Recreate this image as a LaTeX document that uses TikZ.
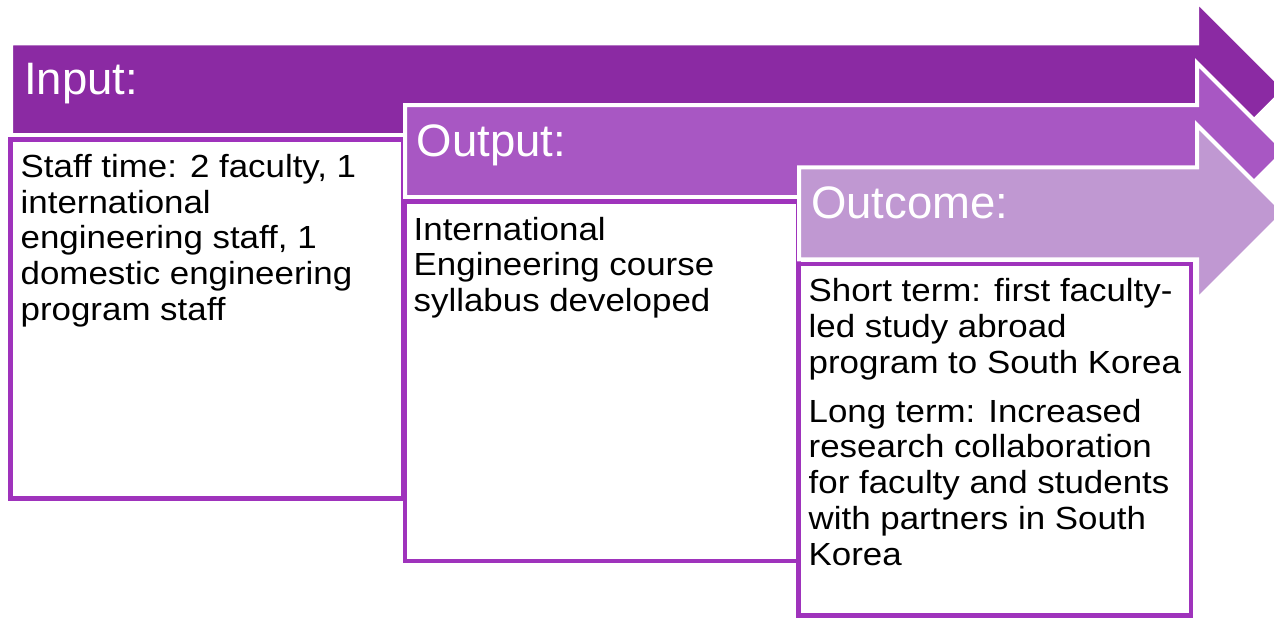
\documentclass[tikz,border=0pt]{standalone}
\usepackage{fontspec}
\setmainfont{Liberation Sans}
\newfontfamily\bodyfont[FakeStretch=1.09]{Liberation Sans}
\definecolor{inputpurple}{HTML}{8B2AA3}
\definecolor{outputpurple}{HTML}{A857C3}
\definecolor{outcomepurple}{HTML}{C098D2}
\definecolor{boxline}{HTML}{9F33BC}
\tikzset{
  bandarrow/.style={draw=white, line width=4pt, line join=miter},
  listbox/.style={draw=boxline, fill=white, line width=4.5pt},
  headtext/.style={anchor=base west, inner sep=0pt, text=white,
    font=\fontsize{45.5}{50}\selectfont},
  % multi-line nodes: the base anchor sits on the last line
  bodytext/.style={anchor=base west, inner sep=0pt, align=left, text=black,
    font=\bodyfont\fontsize{32}{35.7}\selectfont},
}
\begin{document}
\begin{tikzpicture}[x=1pt, y=-1pt]
\useasboundingbox (0,0) rectangle (1274,618);
\clip (0,0) rectangle (1274,618);

% Input band and its box
\path[bandarrow, fill=inputpurple]
  (11,43.5) -- (1197,43.5) -- (1197,1.3) -- (1285,89.25) -- (1197,177.2)
  -- (1197,135) -- (11,135) -- cycle;
\node[headtext] (inputhead) at (24,95) {Input:};
\draw[listbox] (10.5,139.5) rectangle (403.5,498.5);
\node[bodytext] (inputtext) at (20.5,320.1)
  {Staff time: 2 faculty, 1\\international\\engineering staff, 1\\domestic engineering\\program staff};

% Output band and its box
\path[bandarrow, fill=outputpurple]
  (405,105) -- (1197,105) -- (1197,63) -- (1285,151) -- (1197,239)
  -- (1197,197) -- (405,197) -- cycle;
\node[headtext] (outputhead) at (416.5,156.7) {Output:};
\draw[listbox] (405,201.5) rectangle (798.5,561);
\node[bodytext] (outputtext) at (413.5,311.4)
  {International\\Engineering course\\syllabus developed};

% Outcome band and its box
\path[bandarrow, fill=outcomepurple]
  (799,167.3) -- (1197,167.3) -- (1197,125) -- (1284.5,212.5) -- (1197,300)
  -- (1197,259.3) -- (799,259.3) -- cycle;
\node[headtext] (outcomehead) at (811,218.3) {Outcome:};
\draw[listbox] (798.5,264) rectangle (1191,615.5);
\node[bodytext] (shortterm) at (808.5,373.1)
  {Short term: first faculty-\\led study abroad\\program to South Korea};
\node[bodytext] (longterm) at (808.5,565)
  {Long term: Increased\\research collaboration\\for faculty and students\\with partners in South\\Korea};
\end{tikzpicture}
\end{document}
